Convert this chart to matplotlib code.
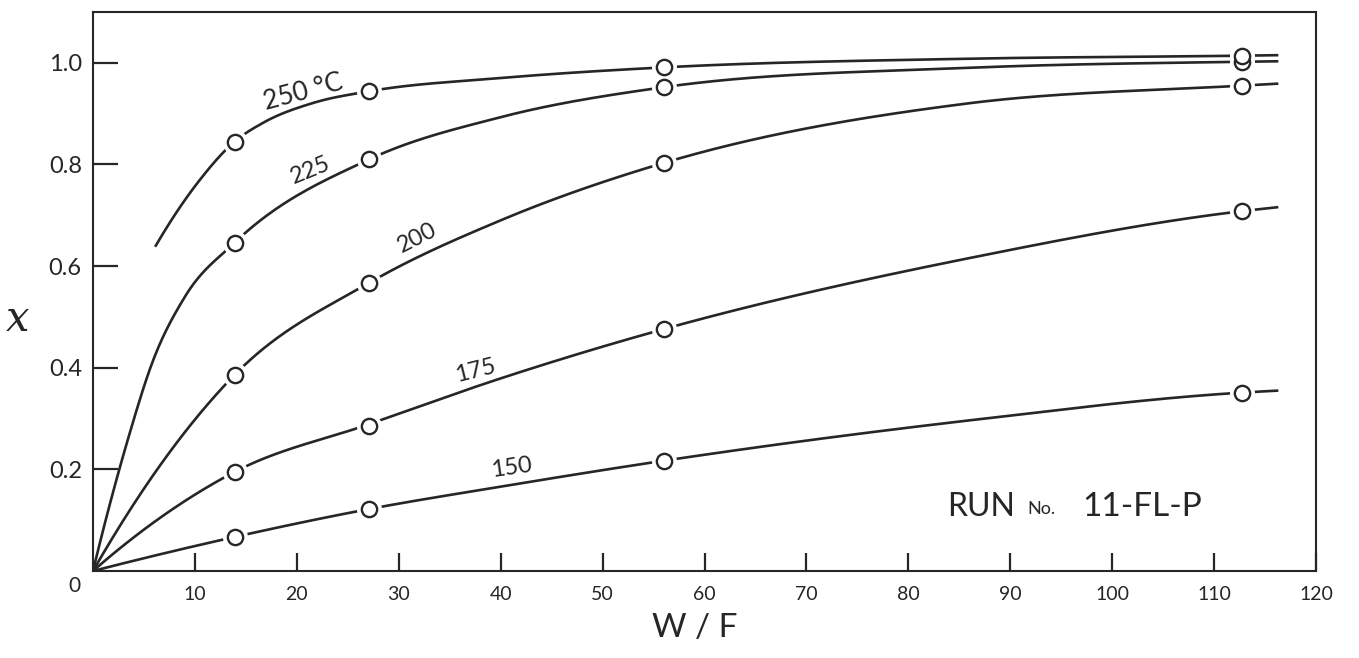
import numpy as np
import matplotlib
matplotlib.use("Agg")
from matplotlib import pyplot as plt

plt.rcParams['font.family'] = ['Lato', 'DejaVu Sans']
ink = '#262626'

# measured conversions at each space time W/F
wf = [13.9, 27.1, 56.0, 112.7]
x_150 = [0.067, 0.122, 0.217, 0.351]
x_175 = [0.195, 0.285, 0.476, 0.708]
x_200 = [0.386, 0.567, 0.803, 0.955]
x_225 = [0.646, 0.810, 0.952, 1.002]
x_250 = [0.845, 0.944, 0.991, 1.014]

# hand faired curves (knots)
fair_wf_150 = [0, 13.9, 27.1, 40.0, 56.0, 85.8, 112.7, 116.3]
fair_x_150 = [0, 0.067, 0.122, 0.166, 0.217, 0.296, 0.351, 0.355]
fair_wf_175 = [0, 13.9, 27.1, 40.0, 56.0, 85.8, 112.7, 116.3]
fair_x_175 = [0, 0.195, 0.289, 0.379, 0.476, 0.615, 0.708, 0.716]
fair_wf_200 = [0, 13.9, 27.1, 40.0, 56.0, 85.8, 112.7, 116.3]
fair_x_200 = [0, 0.386, 0.567, 0.690, 0.803, 0.920, 0.955, 0.959]
fair_wf_225 = [0, 3.5, 5.8, 9.0, 13.9, 27.1, 40.0, 56.0, 85.8, 112.7, 116.3]
fair_x_225 = [0, 0.264, 0.409, 0.539, 0.646, 0.810, 0.893, 0.952, 0.990, 1.002, 1.003]
fair_wf_250 = [6.1, 10.5, 13.9, 16.7, 21.6, 27.1, 40.0, 56.0, 85.8, 112.7, 116.3]
fair_x_250 = [0.638, 0.770, 0.845, 0.882, 0.921, 0.944, 0.970, 0.991, 1.008, 1.014, 1.015]

temps = ['150', '175', '200', '225', '250 °C']
# label spots along the curves: (W/F, x, angle)
lab_pos = [(41.1, 0.203, 8), (37.5, 0.395, 14), (31.8, 0.655, 27), (21.3, 0.788, 22), (20.6, 0.943, 15)]
lab_size = [17, 17, 17, 17, 19]


def hermite(xk, yk, xs):
    # cubic Hermite curve with three point (parabolic) slopes
    xk = np.asarray(xk, float)
    yk = np.asarray(yk, float)
    h = np.diff(xk)
    d = np.diff(yk) / h
    m = np.zeros_like(yk)
    m[1:-1] = (h[1:] * d[:-1] + h[:-1] * d[1:]) / (h[:-1] + h[1:])
    m[0] = ((2 * h[0] + h[1]) * d[0] - h[0] * d[1]) / (h[0] + h[1])
    m[-1] = ((2 * h[-1] + h[-2]) * d[-1] - h[-1] * d[-2]) / (h[-1] + h[-2])
    if m[-1] * d[-1] < 0:
        m[-1] = 0
    idx = np.clip(np.searchsorted(xk, xs) - 1, 0, len(h) - 1)
    t = (xs - xk[idx]) / h[idx]
    h00 = 2 * t**3 - 3 * t**2 + 1
    h10 = t**3 - 2 * t**2 + t
    h01 = -2 * t**3 + 3 * t**2
    h11 = t**3 - t**2
    return (h00 * yk[idx] + h10 * h[idx] * m[idx] + h01 * yk[idx + 1]
            + h11 * h[idx] * m[idx + 1])


fig = plt.figure(figsize=(13.59, 6.58), dpi=100)
ax = fig.add_axes([0.0684, 0.1322, 0.9000, 0.8496])

fairs = [(fair_wf_150, fair_x_150), (fair_wf_175, fair_x_175), (fair_wf_200, fair_x_200),
         (fair_wf_225, fair_x_225), (fair_wf_250, fair_x_250)]
points = [x_150, x_175, x_200, x_225, x_250]

for (fx, fy), py, name, (lx, ly, rot), fs in zip(fairs, points, temps, lab_pos, lab_size):
    xs = np.linspace(fx[0], fx[-1], 600)
    ax.plot(xs, hermite(fx, fy, xs), color=ink, lw=1.9, solid_capstyle='butt', zorder=2)
    # white halo breaks the line round each circle
    ax.plot(wf, py, 'o', ms=17, mfc='white', mec='white', zorder=3)
    ax.plot(wf, py, 'o', ms=11, mfc='white', mec=ink, mew=1.7, zorder=4)
    ax.text(lx, ly, name, rotation=rot, fontsize=fs, color=ink, ha='center', va='center',
            rotation_mode='anchor', zorder=5)

ax.set_xlim(0, 120)
ax.set_ylim(0, 1.1)
ax.set_xticks(range(10, 121, 10))
ax.set_yticks([0.2, 0.4, 0.6, 0.8, 1.0])
ax.set_yticklabels(['0.2', '0.4', '0.6', '0.8', '1.0'])
ax.tick_params(axis='x', direction='in', length=13, width=1.6, color=ink, pad=11,
               labelsize=14, labelcolor=ink)
ax.tick_params(axis='y', direction='in', length=18, width=1.6, color=ink, pad=8,
               labelsize=17, labelcolor=ink)
for sp in ax.spines.values():
    sp.set_linewidth(1.5)
    sp.set_color(ink)

ax.text(-1.2, -0.03, '0', fontsize=15, color=ink, ha='right', va='center')
ax.text(83.8, 0.126, 'RUN', fontsize=23, color=ink, ha='left', va='center')
ax.text(91.7, 0.122, 'No.', fontsize=13, color=ink, ha='left', va='center')
ax.text(97.1, 0.126, '11-FL-P', fontsize=24, color=ink, ha='left', va='center')

fig.text(0.511, 0.045, 'W / F', fontsize=24, color=ink, ha='center', va='center')
fig.text(0.013, 0.515, 'x', fontsize=30, color=ink, ha='center', va='center',
         family='DejaVu Serif', style='italic')

fig.savefig('out.png', dpi=100, facecolor='white')
